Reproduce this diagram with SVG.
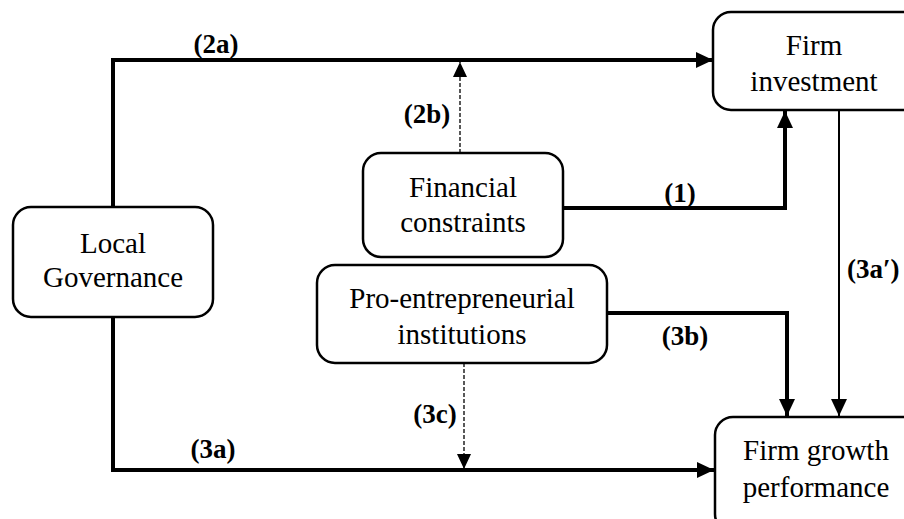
<svg xmlns="http://www.w3.org/2000/svg" width="904" height="519" viewBox="0 0 904 519">
<defs>
<style>
.box{fill:#fff;stroke:#000;stroke-width:2.5}
.t{font-family:"Liberation Serif","Times New Roman",serif;font-size:29px;fill:#000;text-anchor:middle}
.lb{font-family:"Liberation Serif","Times New Roman",serif;font-size:27px;font-weight:bold;fill:#000;text-anchor:middle}
.thick{fill:none;stroke:#000;stroke-width:4}
.thin{fill:none;stroke:#000;stroke-width:2}
.dash{fill:none;stroke:#000;stroke-width:1.3;stroke-dasharray:4,2}
</style>
<marker id="ah" markerUnits="userSpaceOnUse" markerWidth="18" markerHeight="16" refX="17" refY="8" orient="auto">
<path d="M0,0 L17,8 L0,16 z" fill="#000"/>
</marker>
<marker id="ahs" markerUnits="userSpaceOnUse" markerWidth="16" markerHeight="14" refX="15" refY="7" orient="auto">
<path d="M0,0 L15,7 L0,14 z" fill="#000"/>
</marker>
</defs>
<g id="connectors">
<path class="thick" d="M113,207 V60 H713" marker-end="url(#ah)"/>
<path class="dash" d="M460,153 V62" marker-end="url(#ahs)"/>
<path class="thick" d="M563,208 H785 V111" marker-end="url(#ah)"/>
<path class="thick" d="M607,313 H787 V416" marker-end="url(#ah)"/>
<path class="thin" d="M839,110 V416" marker-end="url(#ah)"/>
<path class="dash" d="M464,363 V469" marker-end="url(#ahs)"/>
<path class="thick" d="M113,317 V470 H714" marker-end="url(#ah)"/>
<text class="lb" x="216" y="53">(2a)</text>
<text class="lb" x="427" y="123">(2b)</text>
<text class="lb" x="680" y="202">(1)</text>
<text class="lb" x="685" y="345">(3b)</text>
<text class="lb" x="435" y="423">(3c)</text>
<text class="lb" x="213" y="458">(3a)</text>
<text class="lb" x="847" y="278" style="text-anchor:start">(3a′)</text>
</g>
<g id="firm-investment">
<rect class="box" x="713" y="12" width="215" height="98" rx="18"/>
<text class="t" x="814" y="55">Firm</text>
<text class="t" x="814" y="91">investment</text>
</g>
<g id="financial-constraints">
<rect class="box" x="363" y="153" width="200" height="104" rx="18"/>
<text class="t" x="463" y="197">Financial</text>
<text class="t" x="463" y="232">constraints</text>
</g>
<g id="local-governance">
<rect class="box" x="13" y="207" width="200" height="110" rx="18"/>
<text class="t" x="113" y="253">Local</text>
<text class="t" x="113" y="287">Governance</text>
</g>
<g id="pro-entrepreneurial-institutions">
<rect class="box" x="317" y="265" width="290" height="98" rx="18"/>
<text class="t" x="462" y="308">Pro-entrepreneurial</text>
<text class="t" x="462" y="344">institutions</text>
</g>
<g id="firm-growth-performance">
<rect class="box" x="715" y="417" width="215" height="115" rx="18"/>
<text class="t" x="816" y="460">Firm growth</text>
<text class="t" x="816" y="497">performance</text>
</g>
</svg>
